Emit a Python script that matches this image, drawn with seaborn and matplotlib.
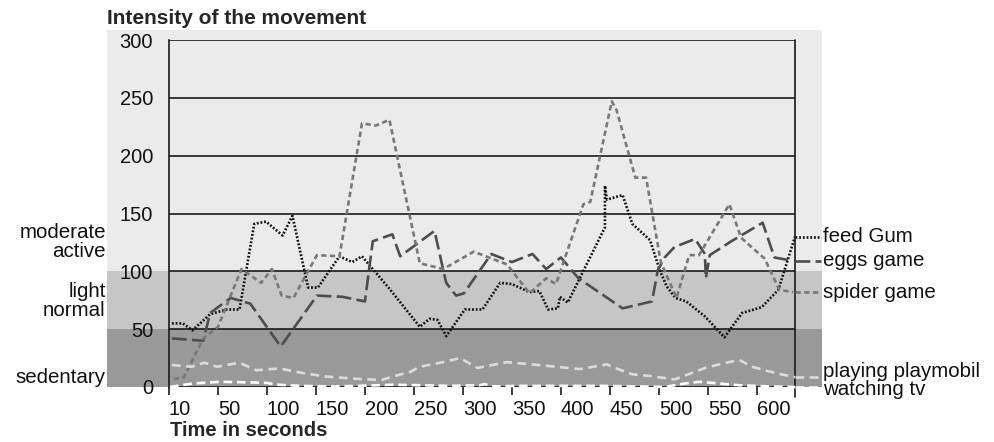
import numpy as np
import pandas as pd
import matplotlib
matplotlib.use('Agg')
import matplotlib.pyplot as plt
from matplotlib.patches import Rectangle
import seaborn as sns

# values (x = time in seconds, y = intensity)
feed_gum_t = [3, 14, 24, 42, 59, 72, 87, 99, 116, 126, 142, 152, 174, 187, 197, 225, 256, 266, 274,
              283, 302, 320, 338, 350, 368, 378, 387, 397, 399, 407, 445, 445, 447, 463, 473, 491,
              501, 508, 517, 528, 547, 567, 585, 605, 622, 639]
feed_gum_v = [55, 55, 49, 63, 67, 67, 141, 143, 131, 148, 86, 86, 113, 108, 113, 85, 52, 59, 58,
              44, 67, 67, 90, 89, 82, 83, 67, 68, 78, 73, 138, 174, 162, 166, 141, 127,
              101, 87, 77, 74, 61, 43, 64, 69, 84, 130]

eggs_t = [3, 35, 42, 63, 83, 114, 151, 177, 200, 208, 228, 236, 271, 280, 283, 293, 301, 329, 350,
          371, 385, 400, 418, 463, 493, 499, 506, 516, 537, 547, 548, 552, 574, 606, 618, 637]
eggs_v = [42, 40, 64, 77, 72, 35, 79, 78, 74, 126, 132, 113, 135, 101, 90, 79, 81, 115, 108,
          115, 102, 112, 94, 68, 74, 101, 112, 121, 128, 115, 94, 114, 126, 142, 112, 109]

spider_t = [5, 15, 35, 50, 74, 94, 105, 115, 127, 151, 174, 197, 211, 225, 256, 280, 311, 345, 368,
            385, 395, 423, 430, 452, 457, 476, 487, 502, 518, 531, 541, 572, 584, 608, 623, 637]
spider_v = [7, 8, 42, 52, 102, 90, 102, 79, 77, 114, 113, 228, 226, 231, 107, 102, 117, 106, 81,
            94, 89, 158, 160, 247, 239, 181, 181, 108, 77, 114, 114, 158, 129, 111, 84, 82]

playmobil_t = [3, 23, 36, 49, 72, 89, 113, 137, 161, 192, 217, 228, 246, 256, 280, 297, 315, 345,
               371, 419, 447, 460, 473, 491, 516, 549, 582, 595, 608, 622, 639]
playmobil_v = [19, 17.5, 21, 17.5, 21, 14.5, 16, 12, 9, 7, 6, 9, 13, 17.5, 21.5, 25, 16.5, 21.5,
               19.5, 15.5, 19.5, 15, 11, 9.5, 6.5, 17, 23.5, 17.5, 14.5, 11.5, 8.5]

tv_t = [1, 24, 52, 83, 100, 110, 134, 164, 195, 229, 256, 287, 317, 322, 331, 358, 399, 440, 481,
        506, 526, 542, 562, 582, 613, 639]
tv_v = [0, 3, 4.5, 4, 3.5, 2, 1, 0.5, 1, 2, 1.5, 1, 1.5, 2.5, 0.5, 1, 1, 1, 0.5,
        0, 3, 4.5, 3, 1.5, 0.5, 0]

names = ['feed Gum', 'eggs game', 'spider game', 'playing playmobil', 'watching tv']
colors = {'feed Gum': '#111111', 'eggs game': '#4d4d4d', 'spider game': '#787878',
          'playing playmobil': '#dcdcdc', 'watching tv': '#ffffff'}
dash_map = {'feed Gum': (0.7, 0.7), 'eggs game': (5.6, 2.0), 'spider game': (2.0, 1.3),
            'playing playmobil': (3.3, 2.1), 'watching tv': (3.3, 1.8)}
label_shift = {'feed Gum': 0, 'eggs game': 0, 'spider game': 0,
               'playing playmobil': 4, 'watching tv': -1.5}

x_ticks = [0, 50, 100, 150, 200, 250, 300, 350, 400, 450, 500, 550, 600]
x_labels = ['10', '50', '100', '150', '200', '250', '300', '350', '400', '450', '500', '550', '600']
y_ticks = [0, 50, 100, 150, 200, 250, 300]

zones = [('sedentary', 8.6), ('light\nnormal', 74), ('moderate\nactive', 125)]
bands = [(0, 50, '#999999'), (50, 100, '#c5c6c5'), (100, 308.6, '#ebebeb')]

frames = []
for name, t, v in zip(names, [feed_gum_t, eggs_t, spider_t, playmobil_t, tv_t],
                      [feed_gum_v, eggs_v, spider_v, playmobil_v, tv_v]):
    frames.append(pd.DataFrame({'time': t, 'intensity': v, 'activity': name}))
df = pd.concat(frames, ignore_index=True)

sns.set_style('white')
plt.rcParams['font.family'] = ['Liberation Sans', 'DejaVu Sans']

fig = plt.figure(figsize=(9.95, 4.42), dpi=100)
ax = fig.add_axes([169 / 995, 55 / 442, 626 / 995, 347 / 442])
ax.set_facecolor('none')

# grey intensity zones, reaching past the axes on both sides
for lo, hi, c in bands:
    ax.add_patch(Rectangle((-0.099, lo), 1.142, hi - lo, transform=ax.get_yaxis_transform(),
                           facecolor=c, edgecolor='none', clip_on=False, zorder=0))

for v in y_ticks:
    ax.axhline(v, color='#1a1a1a', lw=1.2, zorder=1)
ax.axvline(639, ymin=-0.03, ymax=1, color='#1a1a1a', lw=1.2, clip_on=False, zorder=1)

sns.lineplot(data=df, x='time', y='intensity', hue='activity', style='activity',
             palette=colors, dashes=dash_map, estimator=None, sort=False, legend=False,
             linewidth=1.9, ax=ax, clip_on=False, zorder=3)

# line-end labels with short leaders
for name, v in zip(names, [feed_gum_v, eggs_v, spider_v, playmobil_v, tv_v]):
    ax.plot([639, 666], [v[-1], v[-1]], color=colors[name], lw=1.9,
            linestyle=(0, dash_map[name]), clip_on=False, zorder=3)
    ax.annotate(name, (668, v[-1]), xytext=(0, label_shift[name]), textcoords='offset points',
                ha='left', va='center', fontsize=14.8, color='#111111', annotation_clip=False)

for label, y in zones:
    ax.text(-0.101, y, label, transform=ax.get_yaxis_transform(), ha='right', va='center',
            fontsize=14.8, linespacing=1.0, color='#111111')

ax.set_xlim(0, 639)
ax.set_ylim(0, 300)
ax.set_xticks(x_ticks)
ax.set_xticklabels(x_labels)
for lbl in ax.get_xticklabels():
    lbl.set_ha('left')
ax.set_yticks(y_ticks)
ax.tick_params(axis='x', direction='out', length=5.5, width=1.2, color='#1a1a1a',
               pad=4, labelsize=14.5, labelcolor='#111111', bottom=True)
ax.tick_params(axis='y', length=0, pad=11.5, labelsize=14.5, labelcolor='#111111')
ax.set_xlabel('')
ax.set_ylabel('')
for s in ['top', 'right', 'bottom']:
    ax.spines[s].set_visible(False)
ax.spines['left'].set_color('#1a1a1a')
ax.spines['left'].set_linewidth(1.2)

fig.text(107 / 995, 1 - 24 / 442, 'Intensity of the movement', fontsize=15,
         fontweight='bold', va='baseline', ha='left')
fig.text(170 / 995, 1 - 436 / 442, 'Time in seconds', fontsize=14.5,
         fontweight='bold', va='baseline', ha='left')

fig.savefig('out.png', dpi=100)
